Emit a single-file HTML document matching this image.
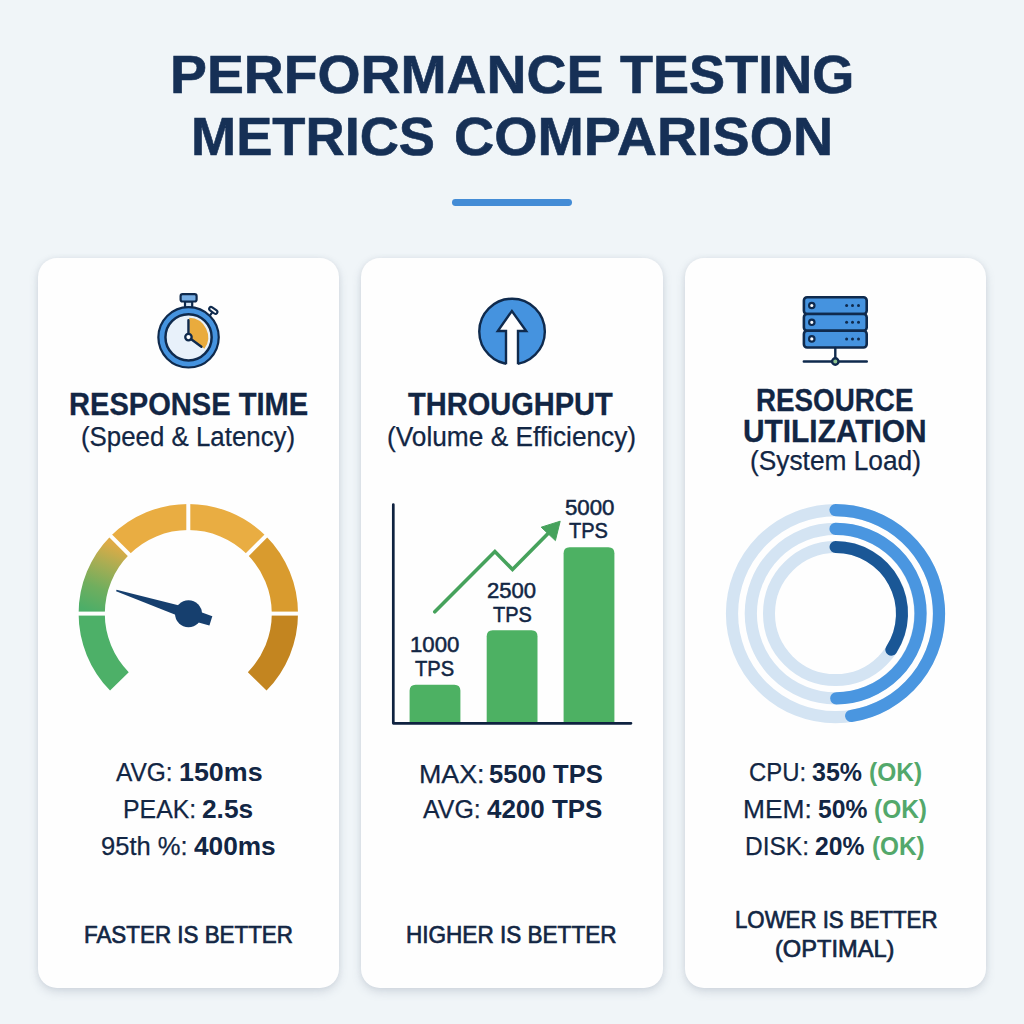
<!DOCTYPE html>
<html lang="en">
<head>
<meta charset="utf-8">
<title>Performance Testing Metrics Comparison</title>
<style>
html,body{margin:0;padding:0;}
body{width:1024px;height:1024px;overflow:hidden;background:#f0f5f8;font-family:"Liberation Sans",sans-serif;color:#122644;position:relative;}
.card{position:absolute;top:258px;height:730px;background:#fefefe;border-radius:19px;box-shadow:0 4px 10px rgba(115,130,150,0.24),0 0 5px rgba(115,130,150,0.10);}
#c1{left:38px;width:301px;}
#c2{left:361px;width:302px;}
#c3{left:685px;width:301px;}
.rule{position:absolute;left:452.2px;top:199.2px;width:119.4px;height:6.8px;border-radius:3.4px;background:#448cd6;}
.t{position:absolute;white-space:nowrap;transform-origin:0 0;font-family:"Liberation Sans",sans-serif;}
.t b{font-weight:700;}
.ok{font-weight:700;color:#53a86b;}
svg{position:absolute;left:0;top:0;}
</style>
</head>
<body>
<div class="rule"></div>
<div class="card" id="c1"></div>
<div class="card" id="c2"></div>
<div class="card" id="c3"></div>
<svg width="1024" height="1024" viewBox="0 0 1024 1024">
<defs><linearGradient id="gg" gradientUnits="userSpaceOnUse" x1="92" y1="612" x2="118" y2="546"><stop offset="0" stop-color="#4cae68"/><stop offset="0.35" stop-color="#70ae5e"/><stop offset="0.7" stop-color="#a9ad53"/><stop offset="1" stop-color="#deab46"/></linearGradient></defs>
<path d="M119.40 681.31A96.6 96.6 0 0 1 91.70 613.60" fill="none" stroke="#4db068" stroke-width="26.2"/>
<path d="M91.70 613.60A96.6 96.6 0 0 1 119.99 545.29" fill="none" stroke="url(#gg)" stroke-width="26.2"/>
<path d="M119.99 545.29A96.6 96.6 0 0 1 188.30 517.00" fill="none" stroke="#e9ad42" stroke-width="26.2"/>
<path d="M188.30 517.00A96.6 96.6 0 0 1 256.61 545.29" fill="none" stroke="#e9ad42" stroke-width="26.2"/>
<path d="M256.61 545.29A96.6 96.6 0 0 1 284.90 613.60" fill="none" stroke="#d99b2e" stroke-width="26.2"/>
<path d="M284.90 613.60A96.6 96.6 0 0 1 257.20 681.31" fill="none" stroke="#c38520" stroke-width="26.2"/>
<path d="M106.80 613.60L76.60 613.60" stroke="#fefefe" stroke-width="4"/>
<path d="M130.67 555.97L109.32 534.62" stroke="#fefefe" stroke-width="4"/>
<path d="M188.30 532.10L188.30 501.90" stroke="#fefefe" stroke-width="4"/>
<path d="M245.93 555.97L267.28 534.62" stroke="#fefefe" stroke-width="4"/>
<path d="M269.80 613.60L300.00 613.60" stroke="#fefefe" stroke-width="4"/>
<path d="M116.51 589.83L116.09 591.17L186.73 619.22L209.40 625.46L212.34 616.32L190.27 608.18Z" fill="#163f6e"/>
<circle cx="188.5" cy="613.7" r="13.5" fill="#163f6e"/>
<circle cx="835.5" cy="613.6" r="103.5" fill="none" stroke="#d4e4f3" stroke-width="12.2"/>
<circle cx="835.5" cy="613.6" r="84.7" fill="none" stroke="#d4e4f3" stroke-width="12.2"/>
<circle cx="835.5" cy="613.6" r="66.5" fill="none" stroke="#d4e4f3" stroke-width="12.0"/>
<path d="M835.50 510.10A103.5 103.5 0 0 1 851.16 715.91" fill="none" stroke="#4a96e0" stroke-width="12.2" stroke-linecap="round"/>
<path d="M835.50 528.90A84.7 84.7 0 0 1 836.24 698.30" fill="none" stroke="#4a96e0" stroke-width="12.2" stroke-linecap="round"/>
<path d="M835.50 547.10A66.5 66.5 0 0 1 891.33 649.72" fill="none" stroke="#1a5796" stroke-width="12.0" stroke-linecap="round"/>
<path d="M409.6 723V690.7Q409.6 684.7 415.6 684.7H454.4Q460.4 684.7 460.4 690.7V723Z" fill="#4db163"/>
<path d="M486.7 723V636.3Q486.7 630.3 492.7 630.3H531.5Q537.5 630.3 537.5 636.3V723Z" fill="#4db163"/>
<path d="M563.6 723V553.2Q563.6 547.2 569.6 547.2H608.4Q614.4 547.2 614.4 553.2V723Z" fill="#4db163"/>
<path d="M393.3 504.6V723.3H631" fill="none" stroke="#0f2240" stroke-width="2.7" stroke-linecap="round" stroke-linejoin="round"/>
<path d="M434.8 611.8L494.9 551.6L512.5 569.5L549.5 532" fill="none" stroke="#46a25c" stroke-width="3.6" stroke-linecap="round" stroke-linejoin="miter"/>
<path d="M560.2 521.2L541.2 527.2L555.4 540.6Z" fill="#46a25c" stroke="#46a25c" stroke-width="1" stroke-linejoin="round"/>
<g stroke-linejoin="round" stroke-linecap="round">
<rect x="185" y="301.5" width="7.2" height="6" fill="#d6e6f6" stroke="#0f2a4d" stroke-width="2.2"/>
<rect x="180.6" y="294.2" width="16" height="7.3" rx="2" fill="#76ade3" stroke="#0f2a4d" stroke-width="2.2"/>
<path d="M210.4 314.8L212.8 311.6" stroke="#0f2a4d" stroke-width="2.2" fill="none"/>
<rect x="-4.6" y="-1.9" width="9.2" height="3.8" rx="1.9" transform="translate(213.3 310.4) rotate(36)" fill="#fefefe" stroke="#0f2a4d" stroke-width="2.1"/>
<circle cx="188.55" cy="337.3" r="30.2" fill="#4593df" stroke="#0f2a4d" stroke-width="2.2"/>
<circle cx="188.55" cy="337.3" r="23.1" fill="#e8f1fa" stroke="#0f2a4d" stroke-width="2.5"/>
<path d="M189.35000000000002 337.3L189.23 317.71A19.6 19.6 0 0 1 204.41 348.82Z" fill="#e9ab3d"/>
<path d="M188.45000000000002 337.3V320.2M188.55 337.3L201.4 346.8" stroke="#0f2a4d" stroke-width="2.4" fill="none"/>
<circle cx="188.45000000000002" cy="337.1" r="3.2" fill="#fefefe" stroke="#0f2a4d" stroke-width="2.3"/>
</g>
<circle cx="512.05" cy="331.5" r="32.8" fill="#4593df" stroke="#0f2a4d" stroke-width="2.4"/>
<path d="M511.9 311L497.8 331H506V367H518V331H526.2Z" fill="#fefefe"/>
<path d="M506 364.3V331H497.8L511.9 311L526.2 331H518V364.3" fill="none" stroke="#0f2a4d" stroke-width="2.4" stroke-linejoin="miter" stroke-linecap="butt"/>
<rect x="803.9" y="297.3" width="62.8" height="16.7" rx="3.2" fill="#4593df" stroke="#0f2a4d" stroke-width="2.6"/>
<rect x="803.9" y="314.0" width="62.8" height="16.7" rx="3.2" fill="#4593df" stroke="#0f2a4d" stroke-width="2.6"/>
<rect x="803.9" y="330.7" width="62.8" height="16.8" rx="3.2" fill="#4593df" stroke="#0f2a4d" stroke-width="2.6"/>
<circle cx="811.8" cy="305.5" r="2.7" fill="#fefefe" stroke="#0f2a4d" stroke-width="2.2"/>
<circle cx="846.6" cy="305.5" r="1.5" fill="#0f2a4d"/>
<circle cx="852.5" cy="305.5" r="1.5" fill="#0f2a4d"/>
<circle cx="858.5" cy="305.5" r="1.5" fill="#0f2a4d"/>
<circle cx="811.8" cy="322.3" r="2.7" fill="#fefefe" stroke="#0f2a4d" stroke-width="2.2"/>
<circle cx="846.6" cy="322.3" r="1.5" fill="#0f2a4d"/>
<circle cx="852.5" cy="322.3" r="1.5" fill="#0f2a4d"/>
<circle cx="858.5" cy="322.3" r="1.5" fill="#0f2a4d"/>
<circle cx="811.8" cy="338.9" r="2.7" fill="#fefefe" stroke="#0f2a4d" stroke-width="2.2"/>
<circle cx="846.6" cy="338.9" r="1.5" fill="#0f2a4d"/>
<circle cx="852.5" cy="338.9" r="1.5" fill="#0f2a4d"/>
<circle cx="858.5" cy="338.9" r="1.5" fill="#0f2a4d"/>
<path d="M835.3 348V357.5M803.8 361.5H866.8" stroke="#0f2a4d" stroke-width="2.4" stroke-linecap="round" fill="none"/>
<circle cx="835.3" cy="361.5" r="3.2" fill="#8fc48f" stroke="#0f2a4d" stroke-width="2.4"/>
</svg>
<div class="t" style="left:169.5px;top:48.4px;font-size:53.5px;line-height:53.5px;font-weight:700;transform:scaleX(1.0341);-webkit-text-stroke:0.6px currentColor;color:#163056;">PERFORMANCE</div>
<div class="t" style="left:620.2px;top:48.4px;font-size:53.5px;line-height:53.5px;font-weight:700;transform:scaleX(1.0105);-webkit-text-stroke:0.6px currentColor;color:#163056;">TESTING</div>
<div class="t" style="left:191.4px;top:109.8px;font-size:53.5px;line-height:53.5px;font-weight:700;transform:scaleX(1.0136);-webkit-text-stroke:0.6px currentColor;color:#163056;">METRICS</div>
<div class="t" style="left:453.9px;top:109.8px;font-size:53.5px;line-height:53.5px;font-weight:700;transform:scaleX(1.0398);-webkit-text-stroke:0.6px currentColor;color:#163056;">COMPARISON</div>
<div class="t" style="left:68.5px;top:388.8px;font-size:31px;line-height:31px;font-weight:700;transform:scaleX(0.9385);-webkit-text-stroke:0.3px currentColor;">RESPONSE TIME</div>
<div class="t" style="left:80.8px;top:423.8px;font-size:27px;line-height:27px;transform:scaleX(0.9573);-webkit-text-stroke:0.25px currentColor;">(Speed &amp; Latency)</div>
<div class="t" style="left:408.3px;top:388.8px;font-size:31px;line-height:31px;font-weight:700;transform:scaleX(0.9365);-webkit-text-stroke:0.3px currentColor;">THROUGHPUT</div>
<div class="t" style="left:386.6px;top:423.8px;font-size:27px;line-height:27px;transform:scaleX(0.9727);-webkit-text-stroke:0.25px currentColor;">(Volume &amp; Efficiency)</div>
<div class="t" style="left:756.0px;top:385.2px;font-size:31px;line-height:31px;font-weight:700;transform:scaleX(0.896);-webkit-text-stroke:0.3px currentColor;">RESOURCE</div>
<div class="t" style="left:742.8px;top:415.5px;font-size:31px;line-height:31px;font-weight:700;transform:scaleX(0.9636);-webkit-text-stroke:0.3px currentColor;">UTILIZATION</div>
<div class="t" style="left:750.0px;top:448.0px;font-size:27px;line-height:27px;transform:scaleX(0.9738);-webkit-text-stroke:0.25px currentColor;">(System Load)</div>
<div class="t" style="left:84.1px;top:922.7px;font-size:24.5px;line-height:24.5px;transform:scaleX(0.9137);-webkit-text-stroke:0.7px currentColor;">FASTER IS BETTER</div>
<div class="t" style="left:406.4px;top:923.0px;font-size:24.5px;line-height:24.5px;transform:scaleX(0.9204);-webkit-text-stroke:0.7px currentColor;">HIGHER IS BETTER</div>
<div class="t" style="left:734.5px;top:908.1px;font-size:24.5px;line-height:24.5px;transform:scaleX(0.9068);-webkit-text-stroke:0.7px currentColor;">LOWER IS BETTER</div>
<div class="t" style="left:774.9px;top:937.1px;font-size:24.5px;line-height:24.5px;transform:scaleX(0.9639);-webkit-text-stroke:0.7px currentColor;">(OPTIMAL)</div>
<div class="t" style="left:564.6px;top:497.6px;font-size:21.5px;line-height:21.5px;transform:scaleX(1.0348);-webkit-text-stroke:0.5px currentColor;">5000</div>
<div class="t" style="left:569.2px;top:521.3px;font-size:21.5px;line-height:21.5px;transform:scaleX(0.9317);-webkit-text-stroke:0.5px currentColor;">TPS</div>
<div class="t" style="left:487.4px;top:581.0px;font-size:21.5px;line-height:21.5px;transform:scaleX(1.0261);-webkit-text-stroke:0.5px currentColor;">2500</div>
<div class="t" style="left:492.6px;top:604.9px;font-size:21.5px;line-height:21.5px;transform:scaleX(0.9293);-webkit-text-stroke:0.5px currentColor;">TPS</div>
<div class="t" style="left:409.8px;top:634.7px;font-size:21.5px;line-height:21.5px;transform:scaleX(1.0326);-webkit-text-stroke:0.5px currentColor;">1000</div>
<div class="t" style="left:415.1px;top:658.7px;font-size:21.5px;line-height:21.5px;transform:scaleX(0.9366);-webkit-text-stroke:0.5px currentColor;">TPS</div>
<div class="t" style="left:116.4px;top:760.1px;font-size:25.5px;line-height:25.5px;transform:scaleX(0.9596);-webkit-text-stroke:0.25px currentColor;">AVG:</div>
<div class="t" style="left:178.9px;top:760.1px;font-size:25.5px;line-height:25.5px;font-weight:700;transform:scaleX(1.0526);">150ms</div>
<div class="t" style="left:122.9px;top:796.7px;font-size:25.5px;line-height:25.5px;transform:scaleX(0.9746);-webkit-text-stroke:0.25px currentColor;">PEAK:</div>
<div class="t" style="left:202.1px;top:796.7px;font-size:25.5px;line-height:25.5px;font-weight:700;transform:scaleX(1.0312);">2.5s</div>
<div class="t" style="left:101.1px;top:833.6px;font-size:25.5px;line-height:25.5px;transform:scaleX(1.0024);-webkit-text-stroke:0.25px currentColor;">95th %:</div>
<div class="t" style="left:194.4px;top:833.6px;font-size:25.5px;line-height:25.5px;font-weight:700;transform:scaleX(1.0282);">400ms</div>
<div class="t" style="left:418.7px;top:762.2px;font-size:25.5px;line-height:25.5px;transform:scaleX(1.0517);-webkit-text-stroke:0.25px currentColor;">MAX:</div>
<div class="t" style="left:489.1px;top:762.2px;font-size:25.5px;line-height:25.5px;font-weight:700;transform:scaleX(1.0036);">5500 TPS</div>
<div class="t" style="left:423.1px;top:797.2px;font-size:25.5px;line-height:25.5px;transform:scaleX(0.9772);-webkit-text-stroke:0.25px currentColor;">AVG:</div>
<div class="t" style="left:486.5px;top:797.2px;font-size:25.5px;line-height:25.5px;font-weight:700;transform:scaleX(1.0177);">4200 TPS</div>
<div class="t" style="left:748.7px;top:759.6px;font-size:25.5px;line-height:25.5px;transform:scaleX(0.9379);-webkit-text-stroke:0.25px currentColor;">CPU:</div>
<div class="t" style="left:811.6px;top:759.6px;font-size:25.5px;line-height:25.5px;font-weight:700;transform:scaleX(0.9796);">35%</div>
<div class="t ok" style="left:868.9px;top:759.6px;font-size:25.5px;line-height:25.5px;font-weight:700;transform:scaleX(0.9604);">(OK)</div>
<div class="t" style="left:742.7px;top:796.8px;font-size:25.5px;line-height:25.5px;transform:scaleX(1.0325);-webkit-text-stroke:0.25px currentColor;">MEM:</div>
<div class="t" style="left:817.6px;top:796.8px;font-size:25.5px;line-height:25.5px;font-weight:700;transform:scaleX(0.9673);">50%</div>
<div class="t ok" style="left:874.2px;top:796.8px;font-size:25.5px;line-height:25.5px;font-weight:700;transform:scaleX(0.9585);">(OK)</div>
<div class="t" style="left:745.0px;top:833.7px;font-size:25.5px;line-height:25.5px;transform:scaleX(0.9603);-webkit-text-stroke:0.25px currentColor;">DISK:</div>
<div class="t" style="left:815.3px;top:833.7px;font-size:25.5px;line-height:25.5px;font-weight:700;transform:scaleX(0.9684);">20%</div>
<div class="t ok" style="left:872.2px;top:833.7px;font-size:25.5px;line-height:25.5px;font-weight:700;transform:scaleX(0.9547);">(OK)</div>
</body>
</html>
